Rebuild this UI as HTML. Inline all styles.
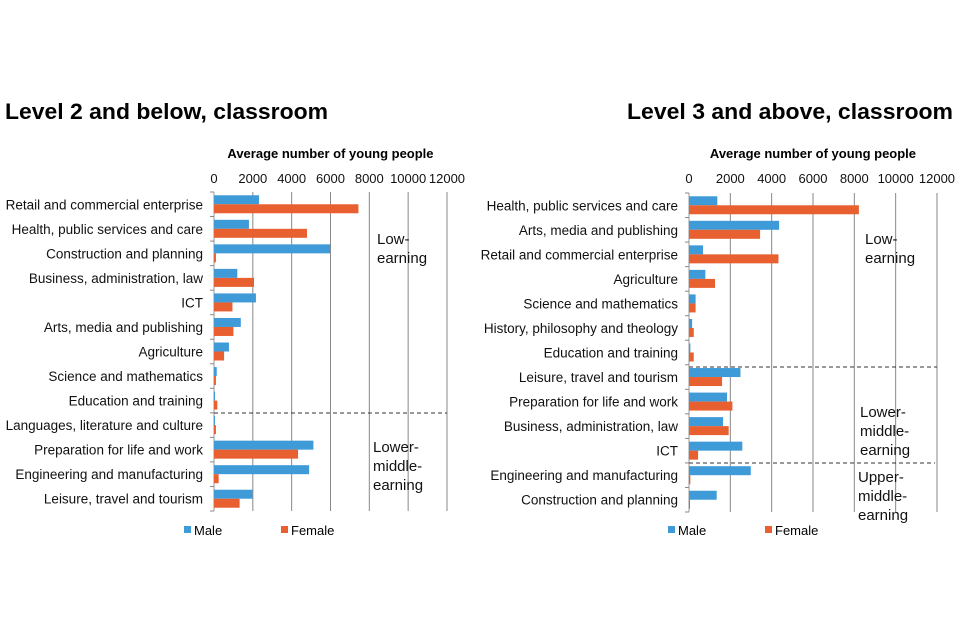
<!DOCTYPE html>
<html><head><meta charset="utf-8"><style>
html,body{margin:0;padding:0;background:#fff;}
svg{display:block;font-family:"Liberation Sans",Arial,sans-serif;}
</style></head><body>
<svg id="s" width="960" height="640" viewBox="0 0 960 640" xmlns="http://www.w3.org/2000/svg">
<text x="5" y="119" font-size="22" font-weight="bold" textLength="323" lengthAdjust="spacingAndGlyphs" fill="#000">Level 2 and below, classroom</text>
<text x="627" y="119" font-size="22" font-weight="bold" textLength="326" lengthAdjust="spacingAndGlyphs" fill="#000">Level 3 and above, classroom</text>
</svg>
<script>
var s=document.getElementById('s'),NS='http://www.w3.org/2000/svg';
function el(t,a,txt){var e=document.createElementNS(NS,t);for(var k in a)e.setAttribute(k,a[k]);if(txt!=null)e.textContent=txt;s.appendChild(e);return e;}
function chart(o){
 var x0=o.x0,pp=o.pp,top=o.top,bot=o.bot,n=o.cats.length,h=(bot-top)/n;
 el('text',{x:(x0+o.x0+6*pp*2000)/2,y:158,'font-size':13,'font-weight':'bold','text-anchor':'middle'},'Average number of young people');
 for(var i=0;i<=6;i++){var gx=x0+i*2000*pp;
  el('line',{x1:gx,y1:top,x2:gx,y2:bot,stroke:i==0?'#999':'#888','stroke-width':1});
  el('text',{x:gx,y:183,'font-size':13,'text-anchor':'middle',fill:'#111'},String(i*2000));}
 for(var i=0;i<=n;i++){var ty=top+i*h;el('line',{x1:x0-4,y1:ty,x2:x0,y2:ty,stroke:'#888'});}
 for(var i=0;i<n;i++){var c=o.cats[i],cy=top+i*h+h/2;
  el('text',{x:x0-11,y:cy+5,'font-size':13.5,'text-anchor':'end',fill:'#111'},c[0]);
  el('rect',{x:x0,y:cy-9,width:Math.max(c[1]*pp,1),height:9,fill:'#3f9ad8'});
  el('rect',{x:x0,y:cy,width:Math.max(c[2]*pp,1),height:9,fill:'#e96030'});}
 o.dash.forEach(function(d){el('line',{x1:x0,y1:d[0],x2:d[1],y2:d[0],stroke:'#333','stroke-dasharray':'4,3'});});
 o.notes.forEach(function(nt){nt[2].forEach(function(l,j){el('text',{x:nt[0],y:nt[1]+j*19,'font-size':15,fill:'#111'},l);});});
 var lx=o.leg;
 el('rect',{x:lx,y:526,width:7,height:7,fill:'#3f9ad8'});el('text',{x:lx+10,y:535,'font-size':13},'Male');
 el('rect',{x:lx+97,y:526,width:7,height:7,fill:'#e96030'});el('text',{x:lx+107,y:535,'font-size':13},'Female');
}
chart({x0:214,pp:38.83/2000,top:192,bot:511,leg:184,
 cats:[["Retail and commercial enterprise",2320,7440],["Health, public services and care",1800,4790],["Construction and planning",5980,100],["Business, administration, law",1200,2060],["ICT",2160,950],["Arts, media and publishing",1380,1000],["Agriculture",770,520],["Science and mathematics ",140,100],["Education and training",50,170],["Languages, literature and culture",50,100],["Preparation for life and work",5120,4330],["Engineering and manufacturing ",4900,240],["Leisure, travel and tourism",1980,1320]],
 dash:[[413,447]],notes:[[377,244,["Low-","earning"]],[373,452,["Lower-","middle-","earning"]]]});
chart({x0:689,pp:41.33/2000,top:193,bot:512,leg:668,
 cats:[["Health, public services and care",1370,8220],["Arts, media and publishing",4360,3440],["Retail and commercial enterprise",680,4330],["Agriculture",790,1260],["Science and mathematics ",320,320],["History, philosophy and theology",150,230],["Education and training",65,230],["Leisure, travel and tourism",2490,1600],["Preparation for life and work",1840,2100],["Business, administration, law",1650,1920],["ICT",2580,440],["Engineering and manufacturing",2990,65],["Construction and planning",1340,20]],
 dash:[[367,937],[463,935]],notes:[[865,244,["Low-","earning"]],[860,417,["Lower-","middle-","earning"]],[858,482,["Upper-","middle-","earning"]]]});
</script>
</body></html>
